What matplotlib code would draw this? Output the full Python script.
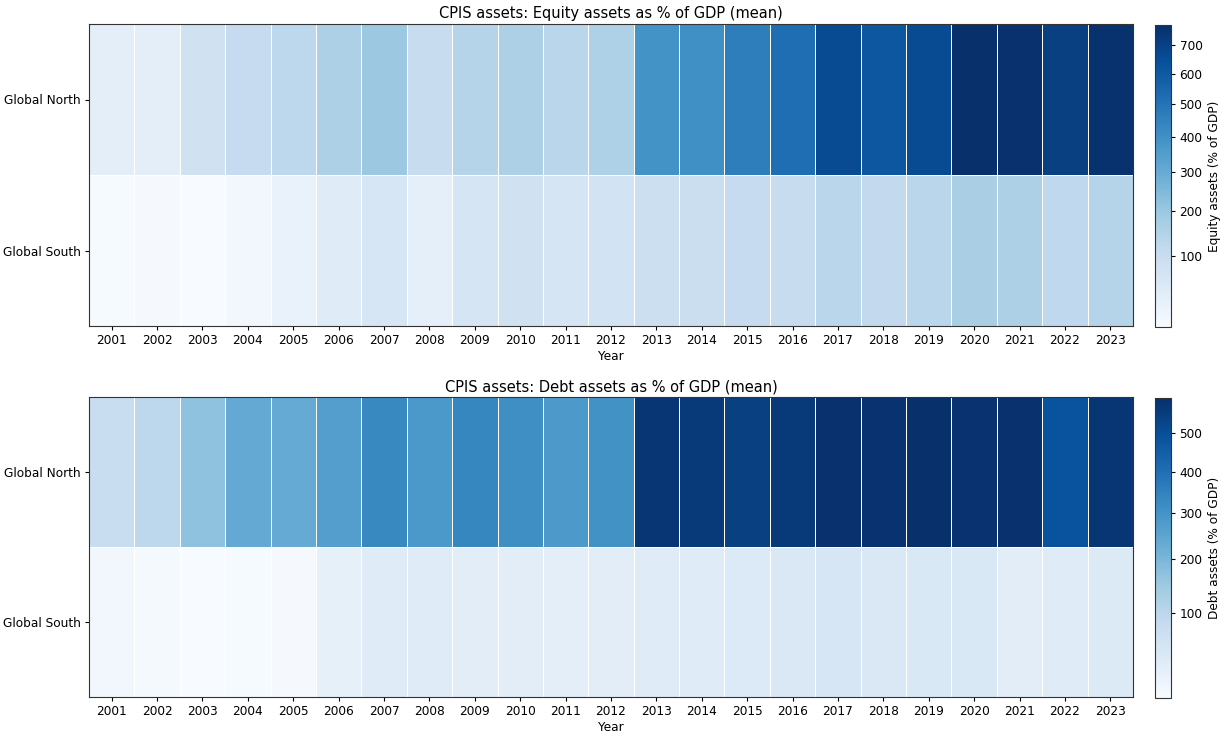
import matplotlib

matplotlib.use("Agg")
import matplotlib.pyplot as plt
import numpy as np
from matplotlib.colors import PowerNorm

years = list(range(2001, 2024))
groups = ["Global North", "Global South"]

# Mean CPIS holdings, % of GDP
equity_north = [34, 34, 82, 110, 129, 162, 197, 104, 142, 162, 136, 155,
                391, 400, 464, 522, 660, 612, 660, 770, 765, 705, 759]
equity_south = [5, 6, 4, 10, 22, 42, 61, 30, 66, 82, 66, 76,
                93, 98, 110, 106, 136, 117, 133, 166, 162, 123, 142]
debt_north = [77, 98, 169, 236, 233, 269, 330, 285, 338, 313, 282, 306,
              580, 563, 546, 563, 592, 587, 597, 587, 592, 490, 576]
debt_south = [6, 4, 2, 3, 3.5, 21, 32, 32, 26, 26, 24, 27,
              32, 32, 38, 40, 47, 40, 42, 42, 27, 30, 36]

panels = [
    ("CPIS assets: Equity assets as % of GDP (mean)", "Equity assets (% of GDP)",
     equity_north, equity_south, [100, 200, 300, 400, 500, 600, 700]),
    ("CPIS assets: Debt assets as % of GDP (mean)", "Debt assets (% of GDP)",
     debt_north, debt_south, [100, 200, 300, 400, 500]),
]

W, H = 1225, 739
fig = plt.figure(figsize=(W / 100, H / 100), dpi=100)

# pixel boxes (top, bottom) for each heatmap
boxes = [(24, 326), (397, 697)]
fs = 8.7

for (title, clabel, north, south, cticks), (top, bot) in zip(panels, boxes):
    ax = fig.add_axes([89 / W, 1 - bot / H, 1044 / W, (bot - top) / H])
    cax = fig.add_axes([1155 / W, 1 - bot / H - 1 / H, 15.5 / W, (bot - top) / H])

    data = np.array([north, south], dtype=float)
    norm = PowerNorm(gamma=0.7, vmin=data.min(), vmax=data.max())
    mesh = ax.pcolormesh(np.arange(len(years) + 1), np.arange(3), data,
                         cmap="Blues", norm=norm, edgecolors="white", linewidth=0.5)
    ax.set_ylim(2, 0)
    ax.set_xticks(np.arange(len(years)) + 0.5)
    ax.set_xticklabels(years, fontsize=fs)
    ax.set_yticks([0.5, 1.5])
    ax.set_yticklabels(groups, fontsize=fs)
    ax.tick_params(length=3, pad=3)
    ax.set_xlabel("Year", fontsize=fs, labelpad=2)
    ax.set_title(title, fontsize=10.5, pad=4)
    for s in ax.spines.values():
        s.set_color("#333333")

    cb = fig.colorbar(mesh, cax=cax)
    cb.set_ticks(cticks)
    cb.ax.tick_params(labelsize=fs, length=3)
    cb.set_label(clabel, fontsize=fs)
    cb.outline.set_edgecolor("#333333")

fig.savefig("out.png", dpi=100)
